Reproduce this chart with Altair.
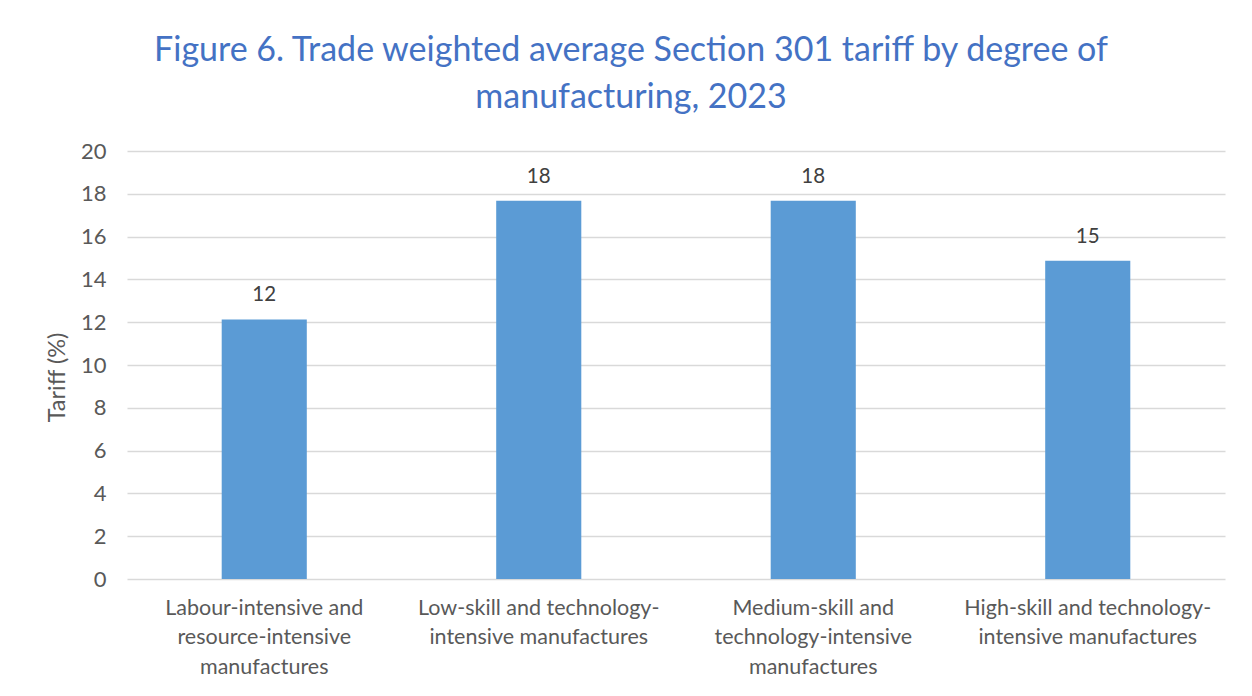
import altair as alt
import pandas as pd

categories = [
    "Labour-intensive and|resource-intensive|manufactures",
    "Low-skill and technology-|intensive manufactures",
    "Medium-skill and|technology-intensive|manufactures",
    "High-skill and technology-|intensive manufactures",
]
tariff = [12.13, 17.68, 17.68, 14.87]

df = pd.DataFrame({"category": categories, "tariff": tariff})
df["label"] = df["tariff"].round(0).astype(int).astype(str)

FONT = "Lato"
GREY = "#595959"

base = alt.Chart(df).encode(
    x=alt.X(
        "category:N",
        sort=categories,
        title=None,
        scale=alt.Scale(paddingInner=0.69, paddingOuter=0.345),
        axis=alt.Axis(
            labelAngle=0,
            labelExpr="split(datum.label, '|')",
            labelFont=FONT,
            labelFontSize=21.5,
            labelColor=GREY,
            labelLineHeight=29.5,
            labelPadding=18,
            labelBaseline="top",
            ticks=False,
            domain=False,
            grid=False,
            labelLimit=400,
        ),
    ),
    y=alt.Y(
        "tariff:Q",
        title="Tariff (%)",
        scale=alt.Scale(domain=[0, 20], nice=False),
        axis=alt.Axis(
            values=list(range(0, 21, 2)),
            labelFont=FONT,
            labelFontSize=22,
            labelColor=GREY,
            labelPadding=21,
            ticks=False,
            domain=False,
            gridColor="#D9D9D9",
            gridWidth=1.5,
            titleFont=FONT,
            titleFontSize=23.5,
            titleFontWeight="normal",
            titleColor=GREY,
            titlePadding=11,
            titleY=226,
        ),
    ),
)

bars = base.mark_bar(color="#5B9BD5")
text = base.mark_text(
    baseline="bottom", dy=-14, font=FONT, fontSize=20.5, color="#404040"
).encode(text="label:N")

chart = (
    alt.layer(bars, text)
    .properties(
        width=1098,
        height=428,
        padding={"left": 119, "top": 143, "right": 19, "bottom": 100},
        autosize=alt.AutoSizeParams(type="none"),
        title=alt.TitleParams(
            text=[
                "Figure 6. Trade weighted average Section 301 tariff by degree of",
                "manufacturing, 2023",
            ],
            font=FONT,
            fontSize=34,
            fontWeight="normal",
            color="#4472C4",
            anchor="middle",
            lineHeight=47,
            dx=-45,
            offset=25,
        ),
    )
    .configure_view(stroke=None)
)

chart.save("out.html", embed_options={"renderer": "svg", "actions": False})
